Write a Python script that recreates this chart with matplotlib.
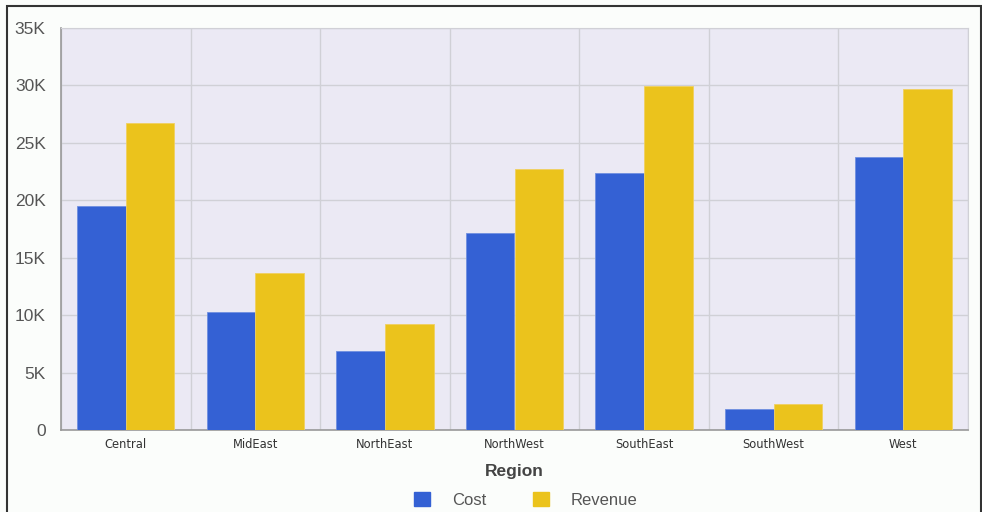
import matplotlib
matplotlib.use("Agg")
from matplotlib import pyplot as plt
from matplotlib.patches import Rectangle, Patch
from matplotlib.ticker import FuncFormatter
import numpy as np

regions = ["Central", "MidEast", "NorthEast", "NorthWest", "SouthEast", "SouthWest", "West"]
cost = [19500, 10270, 6880, 17150, 22370, 1830, 23760]
revenue = [26700, 13660, 9230, 22700, 29940, 2260, 29680]

blue = "#3461D4"
yellow = "#EBC31C"

plt.rcParams['font.family'] = ['Liberation Sans', 'DejaVu Sans']

fig = plt.figure(figsize=(9.82, 5.12), dpi=100, facecolor="#FBFDFB")
ax = fig.add_axes([61 / 982, 82 / 512, 907 / 982, 402 / 512])
ax.set_facecolor("#EBE9F4")

x = np.arange(len(regions))
w = 0.375
ax.bar(x - w / 2, cost, width=w, color=blue, edgecolor="#6F8FE0", linewidth=0.6, zorder=3)
ax.bar(x + w / 2, revenue, width=w, color=yellow, edgecolor="#F0D060", linewidth=0.6, zorder=3)

ax.set_xlim(-0.5, len(regions) - 0.5)
ax.set_ylim(0, 35000)
ax.set_yticks(np.arange(0, 35001, 5000))
ax.yaxis.set_major_formatter(FuncFormatter(lambda v, p: "0" if v == 0 else "%dK" % (v / 1000)))
ax.set_xticks(x)
ax.set_xticklabels(regions, color="#333333")
for lbl in ax.get_xticklabels():
    lbl.set_fontfamily(['DejaVu Sans'])
    lbl.set_fontsize(8.3)

# vertical grid at category boundaries
for b in np.arange(-0.5, len(regions), 1.0):
    ax.axvline(b, color="#D0D0D6", linewidth=1, zorder=1)
ax.yaxis.grid(True, color="#D0D0D6", linewidth=1, zorder=1)
ax.set_axisbelow(True)

ax.tick_params(axis="y", length=0, pad=11, labelsize=12.5, labelcolor="#555555")
ax.tick_params(axis="x", length=0, pad=6)

for s in ["top", "right"]:
    ax.spines[s].set_color("#D0D0D6")
for s in ["left", "bottom"]:
    ax.spines[s].set_color("#999999")
    ax.spines[s].set_linewidth(1.2)

ax.set_xlabel("Region", fontsize=12.5, fontweight="bold", color="#444444", labelpad=9)

handles = [Patch(facecolor=blue, edgecolor=blue), Patch(facecolor=yellow, edgecolor=yellow)]
fig.legend(handles, ["Cost", "Revenue"], loc="center", bbox_to_anchor=(526 / 982, 12 / 512),
           ncol=2, frameon=False, fontsize=12, handlelength=0.95, handleheight=0.95,
           handletextpad=1.35, columnspacing=2.75, labelcolor="#555555")

# outer frame
fig.patches.append(Rectangle((7 / 982, -0.05), 974 / 982, 1.05 - 6 / 512, transform=fig.transFigure,
                             fill=False, edgecolor="#333333", linewidth=1.5, zorder=10))

fig.savefig("out.png", dpi=100, facecolor=fig.get_facecolor())
